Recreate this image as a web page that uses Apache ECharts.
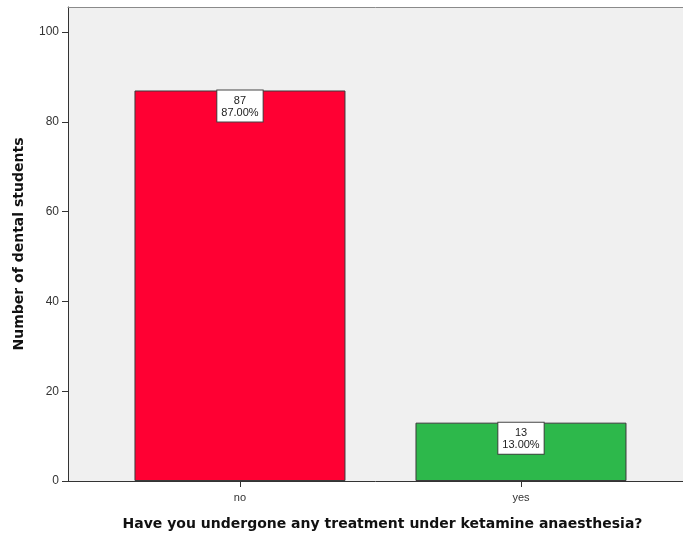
<!DOCTYPE html>
<html>
<head>
<meta charset="utf-8">
<script src="https://cdn.jsdelivr.net/npm/echarts@6/dist/echarts.min.js"></script>
<style>html,body{margin:0;padding:0;background:#fff;}#c{width:683px;height:537px;}</style>
</head>
<body>
<div id="c"></div>
<script>
const categories = ['no', 'yes'];
const counts = [87, 13];
const percents = ['87.00%', '13.00%'];
const barColors = ['#FF0033', '#2DB84B'];
const yTicks = [0, 20, 40, 60, 80, 100];

const chart = echarts.init(document.getElementById('c'), null, {renderer: 'canvas'});
const catIdx = categories.map((c, i) => i);

chart.setOption({
  animation: false,
  backgroundColor: '#ffffff',
  grid: {
    left: 68, right: 0, top: 7, bottom: 56,
    show: true, backgroundColor: '#F0F0F0', borderWidth: 0
  },
  xAxis: [{
    type: 'value',
    min: -0.612, max: 1.5765,
    splitLine: {show: false},
    axisLine: {show: true, onZero: false, lineStyle: {color: '#333', width: 1}},
    axisTick: {show: true, customValues: catIdx, length: 6, lineStyle: {color: '#333'}},
    axisLabel: {
      customValues: catIdx,
      formatter: v => categories[Math.round(v)],
      color: '#333', fontSize: 11, fontFamily: 'Liberation Sans, Arial', margin: 11
    },
    name: 'Have you undergone any treatment under ketamine anaesthesia?',
    nameLocation: 'middle', nameGap: 36,
    nameTextStyle: {fontFamily: 'DejaVu Sans', fontWeight: 'bold', fontSize: 14, color: '#111', padding: [0, 0, 0, 14]}
  }, {
    type: 'value', position: 'top',
    min: -0.612, max: 1.5765,
    splitLine: {show: false},
    axisLine: {show: true, onZero: false, lineStyle: {color: '#8a8a8a', width: 1}},
    axisTick: {show: false},
    axisLabel: {show: false}
  }],
  yAxis: {
    type: 'value', min: 0, max: 105.6, interval: 20,
    splitLine: {show: false},
    axisLine: {show: true, onZero: false, lineStyle: {color: '#333', width: 1}},
    axisTick: {show: true, length: 6, lineStyle: {color: '#333'}, customValues: yTicks},
    axisLabel: {customValues: yTicks, color: '#333', fontSize: 12, fontFamily: 'Liberation Sans, Arial', margin: 9},
    name: 'Number of dental students',
    nameLocation: 'middle', nameGap: 42,
    nameTextStyle: {fontFamily: 'DejaVu Sans', fontWeight: 'bold', fontSize: 14, color: '#111'}
  },
  series: [{
    type: 'bar',
    xAxisIndex: 0,
    barWidth: 211,
    data: catIdx.map(i => ({
      value: [i, counts[i]],
      itemStyle: {color: barColors[i], borderColor: '#3a3a3a', borderWidth: 1}
    })),
    label: {
      show: true, position: 'insideTop', distance: 0,
      formatter: p => counts[p.dataIndex] + '\n' + percents[p.dataIndex],
      backgroundColor: '#fff', borderColor: '#444', borderWidth: 1,
      padding: [4, 4, 3, 4], fontSize: 11, lineHeight: 12,
      color: '#222', fontFamily: 'Liberation Sans, Arial', align: 'center'
    }
  }]
});
</script>
</body>
</html>
